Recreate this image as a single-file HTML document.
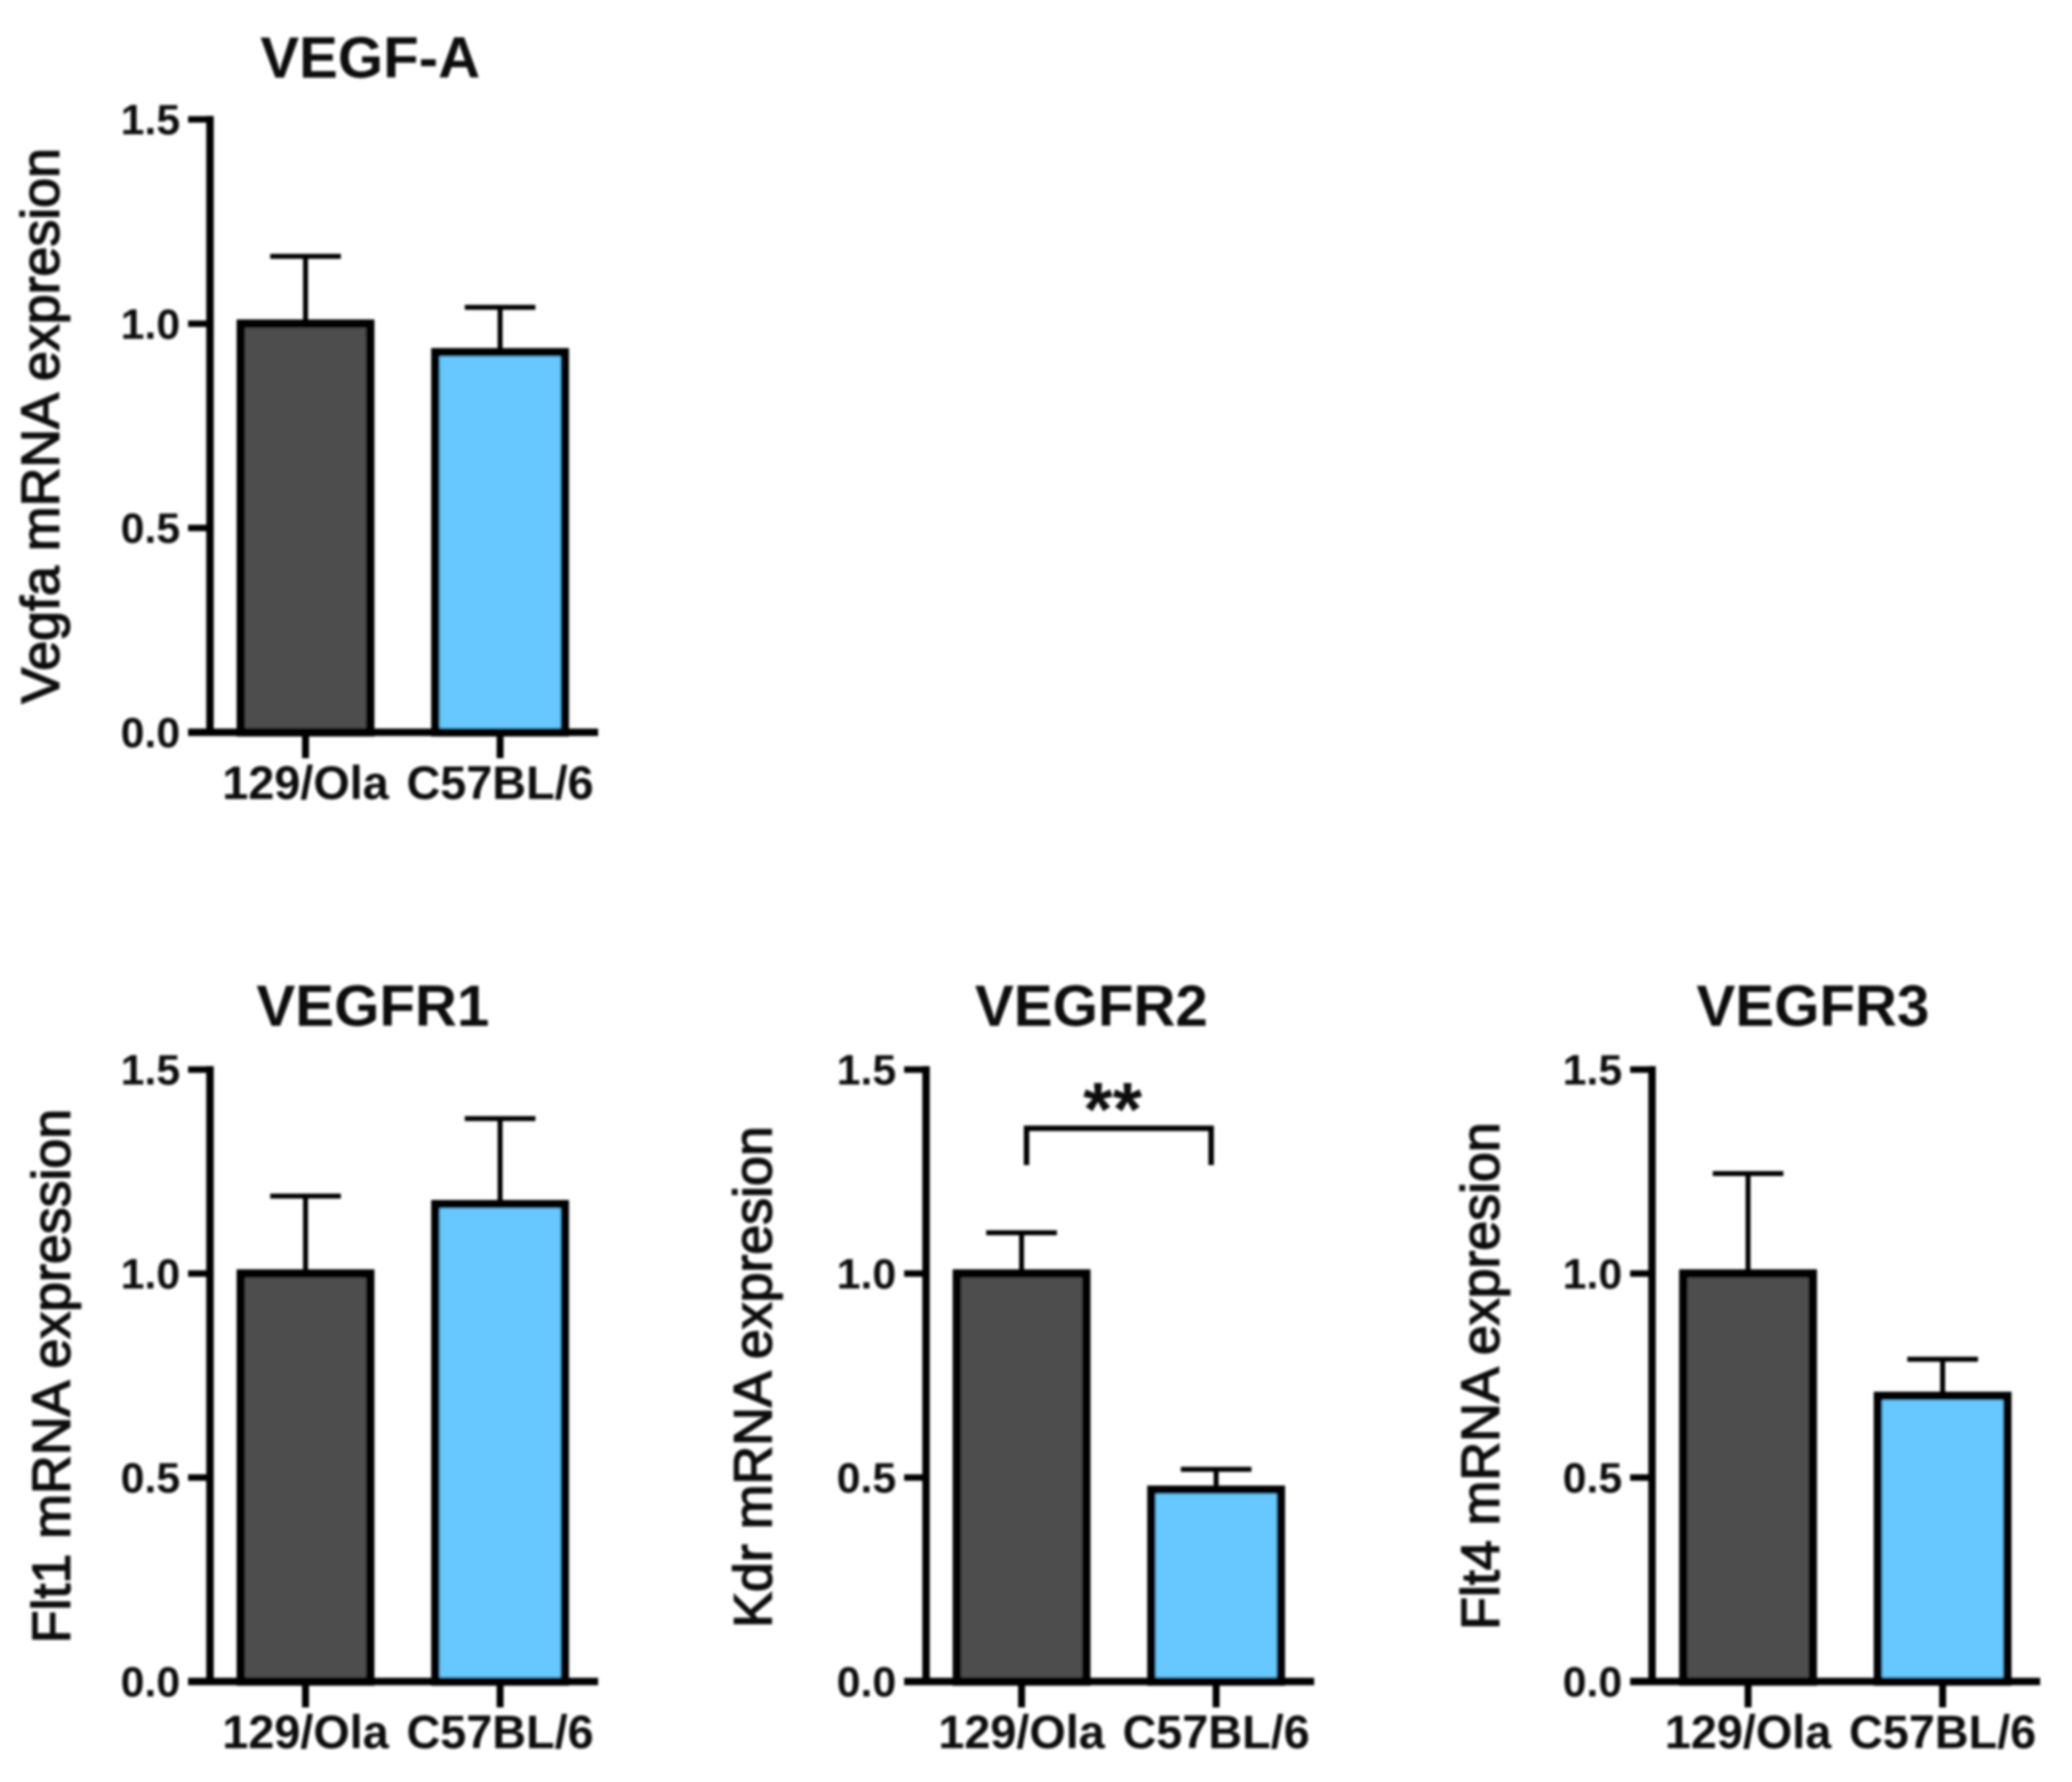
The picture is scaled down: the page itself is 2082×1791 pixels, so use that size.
<!DOCTYPE html>
<html lang="en">
<head>
<meta charset="utf-8">
<title>VEGF and VEGFR mRNA expression</title>
<style>
html,body{margin:0;padding:0;background:#fff;}
body{width:2082px;height:1791px;overflow:hidden;}
svg{display:block;}
text{font-family:"Liberation Sans",Arial,sans-serif;fill:#111;}
.title{font-weight:700;font-size:58.5px;text-anchor:middle;}
.ylab{font-weight:400;font-size:54px;text-anchor:middle;stroke:#111;stroke-width:1.5px;}
.tick{font-weight:700;font-size:43px;text-anchor:end;}
.cat{font-weight:700;font-size:47px;text-anchor:middle;}
.star{font-weight:700;font-size:76px;text-anchor:middle;}
</style>
</head>
<body>
<svg id="figure" width="2082" height="1791" viewBox="0 0 2082 1791" xmlns="http://www.w3.org/2000/svg">
  <defs><filter id="soft" x="-2%" y="-2%" width="104%" height="104%"><feGaussianBlur stdDeviation="1.2"/></filter></defs>
  <g id="root" filter="url(#soft)">
    <text class="title" x="372" y="78">VEGF-A</text>
    <text class="title" x="374.7" y="1031">VEGFR1</text>
    <text class="title" x="1096.7" y="1031">VEGFR2</text>
    <text class="title" x="1821.7" y="1031">VEGFR3</text>
    <text class="ylab" transform="translate(59,428) rotate(-90)">Vegfa mRNA expresion</text>
    <text class="ylab" transform="translate(70,1383) rotate(-90)">Flt1 mRNA expression</text>
    <text class="ylab" transform="translate(775,1384) rotate(-90)">Kdr mRNA expresion</text>
    <text class="ylab" transform="translate(1506,1383) rotate(-90)">Flt4 mRNA expresion</text>
    <text class="star" x="1118" y="1141">**</text>
  </g>
</svg>
<script>
const categories = ['129/Ola', 'C57BL/6'];
const tickLabels = ['0.0', '0.5', '1.0', '1.5'];
const vegfaMeans = [1.0, 0.93];
const vegfaErrorTops = [1.165, 1.04];
const flt1Means = [1.0, 1.17];
const flt1ErrorTops = [1.19, 1.38];
const kdrMeans = [1.0, 0.47];
const kdrErrorTops = [1.10, 0.52];
const flt4Means = [1.0, 0.70];
const flt4ErrorTops = [1.245, 0.79];
const bracketLevels = [1.356, 1.266];

const barColors = ['#4d4d4d', '#66c8ff'];
const svgNS = 'http://www.w3.org/2000/svg';
const root = document.getElementById('root');

function yScale(value, baseY, topY) {
  return baseY - (value / 1.5) * (baseY - topY);
}
function xScale(index, axisX, inset) {
  return axisX + inset + index * 195.5;
}
function line(parent, x1, y1, x2, y2, width, name) {
  const el = document.createElementNS(svgNS, 'line');
  el.setAttribute('x1', x1);
  el.setAttribute('y1', y1);
  el.setAttribute('x2', x2);
  el.setAttribute('y2', y2);
  el.setAttribute('stroke', '#000');
  el.setAttribute('stroke-width', width);
  
  
  parent.appendChild(el);
  return el;
}

function drawPanel(panelName, axisX, inset, baseY, topY, means, errorTops) {
  const g = document.createElementNS(svgNS, 'g');
  
  
  root.appendChild(g);

  means.forEach(function (mean, i) {
    const cx = xScale(i, axisX, inset);
    const yTop = yScale(mean, baseY, topY);
    const yErr = yScale(errorTops[i], baseY, topY);
    line(g, cx, yTop, cx, yErr, 5, 'error-stem');
    line(g, cx - 35.5, yErr, cx + 35.5, yErr, 5, 'error-cap');
    const bar = document.createElementNS(svgNS, 'rect');
    bar.setAttribute('x', cx - 65);
    bar.setAttribute('y', yTop);
    bar.setAttribute('width', 130);
    bar.setAttribute('height', baseY - yTop);
    bar.setAttribute('fill', barColors[i]);
    bar.setAttribute('stroke', '#000');
    bar.setAttribute('stroke-width', 8.5);
    
    
    g.appendChild(bar);
  });

  line(g, axisX, topY - 3.5, axisX, baseY + 3.5, 7.5, 'y-axis-line');
  line(g, axisX - 22, baseY, axisX + 390, baseY, 7.5, 'x-axis-line');

  tickLabels.forEach(function (label) {
    const y = yScale(parseFloat(label), baseY, topY);
    if (parseFloat(label) > 0) {
      line(g, axisX - 22, y, axisX, y, 6.5, 'y-tick');
    }
    const t = document.createElementNS(svgNS, 'text');
    t.setAttribute('class', 'tick');
    t.setAttribute('x', axisX - 30);
    t.setAttribute('y', y + 15);
    
    
    t.textContent = label;
    g.appendChild(t);
  });

  categories.forEach(function (category, i) {
    const cx = xScale(i, axisX, inset);
    line(g, cx, baseY, cx, baseY + 26, 7, 'x-tick');
    const t = document.createElementNS(svgNS, 'text');
    t.setAttribute('class', 'cat');
    t.setAttribute('x', cx);
    t.setAttribute('y', baseY + 67);
    
    
    t.textContent = category;
    g.appendChild(t);
  });
  return g;
}

drawPanel('vegfa', 211, 96, 736, 120, vegfaMeans, vegfaErrorTops);
drawPanel('flt1', 211, 96, 1690, 1075, flt1Means, flt1ErrorTops);
const kdrPanel = drawPanel('kdr', 930.5, 96, 1690, 1075, kdrMeans, kdrErrorTops);
drawPanel('flt4', 1660, 96.5, 1690, 1075, flt4Means, flt4ErrorTops);

const bracket = document.createElementNS(svgNS, 'polyline');
const bracketTop = yScale(bracketLevels[0], 1690, 1075);
const bracketEnd = yScale(bracketLevels[1], 1690, 1075);
const bracketLeft = xScale(0, 930.5, 96) + 5;
const bracketRight = xScale(1, 930.5, 96) - 5;
bracket.setAttribute('points', [bracketLeft, bracketEnd, bracketLeft, bracketTop, bracketRight, bracketTop, bracketRight, bracketEnd].join(' '));
bracket.setAttribute('fill', 'none');
bracket.setAttribute('stroke', '#000');
bracket.setAttribute('stroke-width', 5.5);


kdrPanel.appendChild(bracket);
</script>
</body>
</html>
